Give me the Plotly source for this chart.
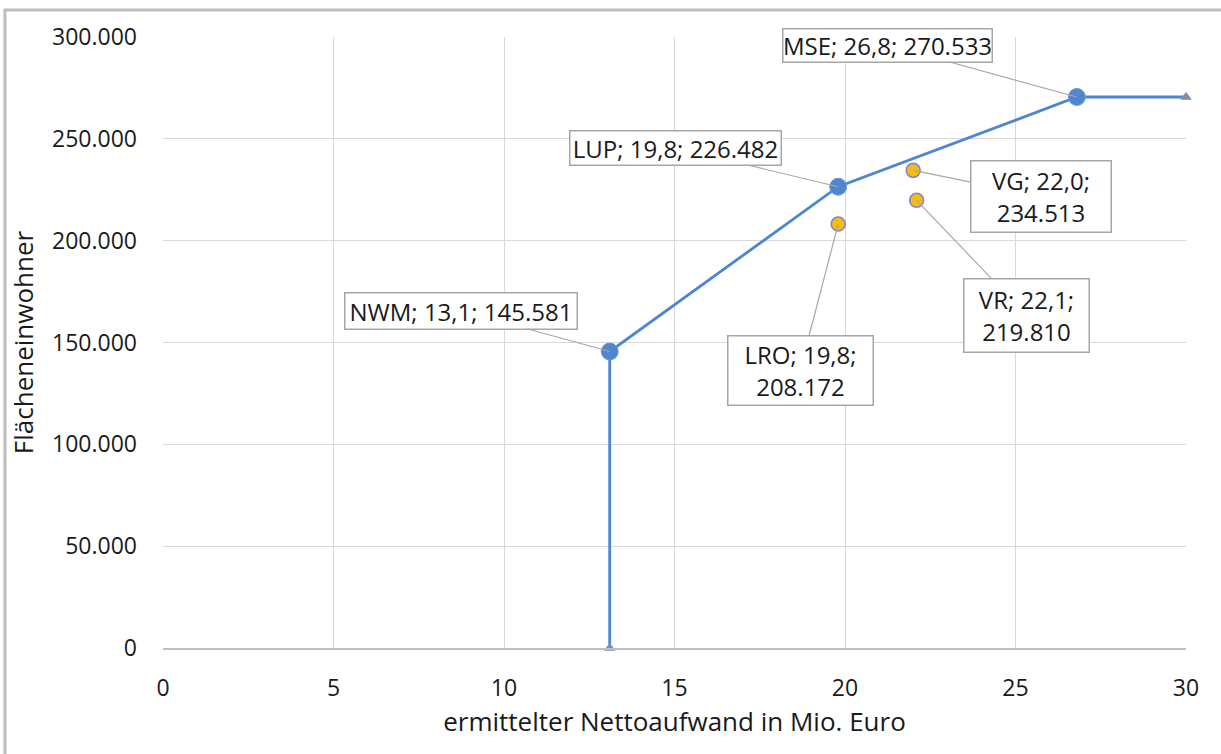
import plotly.graph_objects as go

# Landkreise: Nettoaufwand (Mio. Euro) und Flächeneinwohner
kreis_linie = ["", "NWM", "LUP", "MSE", ""]
aufwand_linie = [13.1, 13.1, 19.8, 26.8, 30.0]
einwohner_linie = [0, 145581, 226482, 270533, 270533]

kreis_punkte = ["LRO", "VG", "VR"]
aufwand_punkte = [19.8, 22.0, 22.1]
einwohner_punkte = [208172, 234513, 219810]

x_ticks = [0, 5, 10, 15, 20, 25, 30]
y_ticks = [0, 50000, 100000, 150000, 200000, 250000, 300000]

FONT = "Open Sans"
TXT = "#1a1a1a"
BLUE = "#4a86d3"
MARKER_BLUE = "#4f86cf"


def beschriftung(name, x, y, zweizeilig=False):
    xs = f"{x:.1f}".replace(".", ",")
    ys = f"{y:,}".replace(",", ".")
    if zweizeilig:
        return f"{name}; {xs};<br>{ys}"
    return f"{name}; {xs}; {ys}"


fig = go.Figure()

fig.add_trace(go.Scatter(
    x=aufwand_linie, y=einwohner_linie, mode="lines+markers",
    line=dict(color=BLUE, width=2.8),
    marker=dict(
        symbol=["triangle-up", "circle", "circle", "circle", "triangle-up"],
        size=[9, 17, 17, 17, 9],
        color=["#8c8c8c", MARKER_BLUE, MARKER_BLUE, MARKER_BLUE, "#8c8c8c"],
        opacity=1,
        line=dict(width=1, color="#6f9bd6"),
    ),
    cliponaxis=False,
    showlegend=False, hoverinfo="skip",
))

fig.add_trace(go.Scatter(
    x=aufwand_punkte, y=einwohner_punkte, mode="markers",
    marker=dict(symbol="circle", size=14, color="#f2bd0c", opacity=1,
                line=dict(color="#8f7fd8", width=1.6)),
    cliponaxis=False,
    showlegend=False, hoverinfo="skip",
))

# Datenbeschriftungen mit Führungslinien: (Versatz x, Versatz y, Breite, Höhe, zweizeilig)
layout_linie = {
    "NWM": (-149, -41, 231, 35, False),
    "LUP": (-163, -39, 210, 33, False),
    "MSE": (-189, -52, 208, 32, False),
}
layout_punkte = {
    "LRO": (-38, 146, 144, 68, True),
    "VG": (128, 26, 139, 70, True),
    "VR": (110, 115, 124, 72, True),
}

annotations = []
for name, x, y in zip(kreis_linie, aufwand_linie, einwohner_linie):
    if name in layout_linie:
        ax, ay, w, h, two = layout_linie[name]
        annotations.append(dict(x=x, y=y, ax=ax, ay=ay, text=beschriftung(name, x, y, two),
                                width=w, height=h))
for name, x, y in zip(kreis_punkte, aufwand_punkte, einwohner_punkte):
    ax, ay, w, h, two = layout_punkte[name]
    annotations.append(dict(x=x, y=y, ax=ax, ay=ay, text=beschriftung(name, x, y, two),
                            width=w, height=h))

for a in annotations:
    a.update(xref="x", yref="y", axref="pixel", ayref="pixel", showarrow=True,
             arrowhead=0, arrowwidth=1.2, arrowcolor="#a8a8a8",
             bgcolor="white", bordercolor="#a6a6a6", borderwidth=1.5, borderpad=0,
             font=dict(family=FONT, size=24, color=TXT), align="center", valign="middle")

fig.update_layout(
    width=1221, height=754,
    margin=dict(l=163, r=35, t=37, b=106),
    paper_bgcolor="white", plot_bgcolor="white",
    separators=",.",
    font=dict(family=FONT, size=23, color=TXT),
    annotations=annotations,
    shapes=[dict(type="rect", xref="paper", yref="paper",
                 x0=-0.1545, x1=1.2, y0=-0.4, y1=1.0442,
                 line=dict(color="#bdbdbd", width=3), fillcolor="rgba(0,0,0,0)",
                 layer="below")],
)

fig.update_xaxes(
    range=[0, 30], tickvals=x_ticks, ticktext=[str(v) for v in x_ticks],
    showgrid=True, gridcolor="#d9d9d9", gridwidth=1,
    showline=True, linecolor="#bfbfbf", linewidth=1.5, zeroline=False,
    ticks="", ticklabelstandoff=19,
    tickfont=dict(family=FONT, size=23, color=TXT),
    title=dict(text="ermittelter Nettoaufwand in Mio. Euro", standoff=8,
               font=dict(family=FONT, size=26, color=TXT)),
)
fig.update_yaxes(
    range=[0, 300000], tickvals=y_ticks, tickformat=",d",
    showgrid=True, gridcolor="#d9d9d9", gridwidth=1,
    showline=False, zeroline=False,
    ticks="", ticklabelstandoff=25,
    tickfont=dict(family=FONT, size=23, color=TXT),
    title=dict(text="Flächeneinwohner", standoff=10,
               font=dict(family=FONT, size=26, color=TXT)),
)

fig.write_html("out.html")
